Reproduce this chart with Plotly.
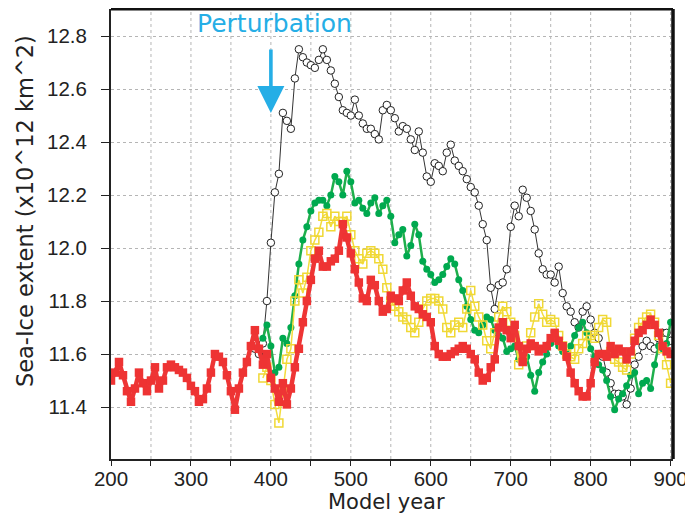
import plotly.graph_objects as go

# ---------------- data (5-year steps) ----------------
red_start = 200
red_vals = [11.50, 11.53, 11.57, 11.52, 11.46, 11.42, 11.47, 11.53, 11.49, 11.46,
            11.50, 11.55, 11.47, 11.50, 11.55, 11.56, 11.55, 11.54, 11.53, 11.51,
            11.48, 11.46, 11.42, 11.43, 11.47, 11.53, 11.60, 11.59, 11.57, 11.52,
            11.46, 11.39, 11.47, 11.53, 11.57, 11.63, 11.69, 11.62, 11.56, 11.60,
            11.51, 11.47, 11.42, 11.49, 11.41, 11.47, 11.55, 11.62, 11.72, 11.80,
            11.88, 11.96, 11.99, 11.93, 11.93, 11.95, 11.96, 11.99, 12.09, 12.04,
            11.98, 11.92, 11.87, 11.81, 11.80, 11.88, 11.86, 11.80, 11.76, 11.77,
            11.82, 11.81, 11.80, 11.84, 11.87, 11.82, 11.78, 11.77, 11.75, 11.74,
            11.72, 11.63, 11.60, 11.59, 11.59, 11.60, 11.61, 11.62, 11.63, 11.62,
            11.60, 11.58, 11.53, 11.50, 11.51, 11.55, 11.58, 11.70, 11.72, 11.69,
            11.66, 11.71, 11.63, 11.57, 11.62, 11.64, 11.63, 11.61, 11.62, 11.63,
            11.66, 11.68, 11.65, 11.63, 11.59, 11.53, 11.49, 11.46, 11.44, 11.44,
            11.49, 11.57, 11.60, 11.60, 11.59, 11.63, 11.60, 11.62, 11.61, 11.58,
            11.61, 11.65, 11.68, 11.69, 11.71, 11.73, 11.71, 11.68, 11.63, 11.61,
            11.60]

black_start = 380
black_vals = [11.62, 11.60, 11.64, 11.80, 12.02, 12.21, 12.28, 12.51, 12.48, 12.45,
              12.64, 12.75, 12.72, 12.70, 12.69, 12.68, 12.71, 12.75, 12.71, 12.67,
              12.62, 12.57, 12.52, 12.51, 12.50, 12.56, 12.50, 12.47, 12.45, 12.45,
              12.43, 12.41, 12.52, 12.54, 12.52, 12.49, 12.44, 12.46, 12.45, 12.41,
              12.37, 12.44, 12.36, 12.27, 12.25, 12.32, 12.31, 12.29, 12.36, 12.39,
              12.33, 12.31, 12.29, 12.26, 12.23, 12.21, 12.16, 12.09, 12.03, 11.85,
              11.77, 11.86, 11.87, 11.92, 12.08, 12.16, 12.12, 12.22, 12.19, 12.14,
              12.07, 11.98, 11.92, 11.90, 11.90, 11.87, 11.93, 11.83, 11.78, 11.76,
              11.72, 11.70, 11.76, 11.78, 11.73, 11.68, 11.66, 11.59, 11.53, 11.49,
              11.45, 11.45, 11.44, 11.41, 11.47, 11.56, 11.59, 11.63, 11.65, 11.63,
              11.62, 11.66, 11.68, 11.68, 11.65]

green_start = 390
green_vals = [11.66, 11.71, 11.63, 11.53, 11.55, 11.66, 11.64, 11.70, 11.82, 11.94,
              12.03, 12.08, 12.14, 12.17, 12.18, 12.18, 12.16, 12.20, 12.27, 12.25,
              12.20, 12.29, 12.25, 12.17, 12.18, 12.15, 12.13, 12.17, 12.19, 12.13,
              12.16, 12.18, 12.12, 12.02, 12.05, 12.07, 11.97, 12.01, 12.09, 12.05,
              11.95, 11.92, 11.90, 11.87, 11.88, 11.90, 11.93, 11.96, 11.94, 11.88,
              11.84, 11.78, 11.73, 11.69, 11.68, 11.71, 11.74, 11.73, 11.69, 11.67,
              11.66, 11.61, 11.62, 11.63, 11.58, 11.58, 11.59, 11.52, 11.46, 11.53,
              11.57, 11.60, 11.64, 11.67, 11.63, 11.61, 11.60, 11.63, 11.67, 11.70,
              11.72, 11.68, 11.62, 11.59, 11.56, 11.54, 11.50, 11.44, 11.39, 11.43,
              11.45, 11.48, 11.52, 11.53, 11.45, 11.49, 11.50, 11.47, 11.56, 11.63,
              11.62, 11.64, 11.72]

yellow_start = 390
yellow_vals = [11.51, 11.55, 11.50, 11.41, 11.34, 11.46, 11.58, 11.62, 11.80, 11.88,
               11.83, 11.89, 11.99, 12.03, 12.06, 12.12, 12.13, 12.08, 12.12, 12.10,
               12.10, 12.12, 12.05, 11.99, 11.96, 11.94, 11.98, 11.99, 11.98, 11.96,
               11.92, 11.85, 11.80, 11.78, 11.76, 11.74, 11.73, 11.70, 11.68, 11.72,
               11.77, 11.80, 11.81, 11.81, 11.80, 11.77, 11.70, 11.68, 11.71, 11.72,
               11.70, 11.77, 11.84, 11.78, 11.74, 11.71, 11.65, 11.62, 11.68, 11.74,
               11.78, 11.76, 11.72, 11.67, 11.56, 11.59, 11.63, 11.68, 11.74, 11.79,
               11.75, 11.72, 11.73, 11.72, 11.67, 11.63, 11.60, 11.59, 11.58, 11.62,
               11.64, 11.67, 11.67, 11.66, 11.70, 11.73, 11.72, 11.61, 11.58, 11.57,
               11.55, 11.54, 11.60, 11.66, 11.70, 11.72, 11.74, 11.75, 11.72, 11.67,
               11.62, 11.56, 11.49]

STEP = 5
x_ticks = [200, 300, 400, 500, 600, 700, 800, 900]
y_ticks = [11.4, 11.6, 11.8, 12.0, 12.2, 12.4, 12.6, 12.8]
y_tick_text = ["11.4", "11.6", "11.8", "12.0", "12.2", "12.4", "12.6", "12.8"]


def years(start, vals):
    return [start + STEP * i for i in range(len(vals))]


TICKFONT = "Liberation Sans, Arial, sans-serif"
TITLEFONT = "DejaVu Sans, Verdana, sans-serif"
CYAN = "#25AEE6"
INK = "#222222"

fig = go.Figure()

fig.add_trace(go.Scatter(
    x=years(black_start, black_vals), y=black_vals, mode="lines+markers",
    line=dict(color="#333333", width=1),
    marker=dict(symbol="circle", size=7.5, color="white",
                line=dict(color="#222222", width=1)),
    showlegend=False))

fig.add_trace(go.Scatter(
    x=years(green_start, green_vals), y=green_vals, mode="lines+markers",
    line=dict(color="#1FAF4C", width=2.5),
    marker=dict(symbol="circle", size=7, color="#00A94F"),
    showlegend=False))

fig.add_trace(go.Scatter(
    x=years(yellow_start, yellow_vals), y=yellow_vals, mode="lines+markers",
    line=dict(color="#F3DC3C", width=1.5),
    marker=dict(symbol="square-open", size=8, color="#F0D835",
                line=dict(width=1.5)),
    showlegend=False))

fig.add_trace(go.Scatter(
    x=years(red_start, red_vals), y=red_vals, mode="lines+markers",
    line=dict(color="#EE3535", width=4.5),
    marker=dict(symbol="square", size=8.5, color="#EE3333"),
    showlegend=False))

# Perturbation arrow and label
fig.add_annotation(x=400, y=12.51, ax=400, ay=12.755, xref="x", yref="y",
                   axref="x", ayref="y", text="", showarrow=True,
                   arrowhead=2, arrowsize=1.5, arrowwidth=3.6, arrowcolor=CYAN)
fig.add_annotation(x=404, y=12.848, xref="x", yref="y", text="Perturbation",
                   showarrow=False, font=dict(family=TITLEFONT, size=25, color=CYAN),
                   yanchor="middle", xanchor="center")

# axis titles as annotations (positions as in the reference)
fig.add_annotation(x=-0.153, y=0.551, xref="paper", yref="paper",
                   text="Sea-Ice extent (x10^12 km^2)", textangle=-90,
                   showarrow=False, xanchor="center", yanchor="middle",
                   font=dict(family=TITLEFONT, size=22.5, color=INK))
fig.add_annotation(x=0.491, y=-0.095, xref="paper", yref="paper",
                   text="Model year", showarrow=False,
                   xanchor="center", yanchor="middle",
                   font=dict(family=TITLEFONT, size=21, color=INK))

# heavy top / right frame
fig.add_shape(type="line", xref="paper", yref="paper", x0=0, x1=1, y0=1, y1=1,
              line=dict(color="#111111", width=3))
fig.add_shape(type="line", xref="paper", yref="paper", x0=1, x1=1, y0=0, y1=1,
              line=dict(color="#111111", width=3.5))

# vertical dotted grid every 50 years
for gx in range(250, 901, 50):
    fig.add_shape(type="line", xref="x", yref="paper", x0=gx, x1=gx, y0=0, y1=1,
                  line=dict(color="#B5B5B5", width=1, dash="dot"), layer="below")

# page body has an 8px margin, so the figure is sized/offset accordingly
fig.update_layout(
    width=685, height=507,
    margin=dict(l=103, r=20, t=1, b=56),
    paper_bgcolor="white", plot_bgcolor="white",
    font=dict(family=TICKFONT, color=INK),
    xaxis=dict(range=[200, 903], tickvals=x_ticks, ticks="outside", ticklen=5,
               tickwidth=1, tickcolor=INK, ticklabelstandoff=-5,
               showline=True, linecolor=INK, linewidth=2,
               showgrid=False, zeroline=False,
               tickfont=dict(size=20.5, family=TICKFONT, color=INK),
               minor=dict(tickvals=list(range(250, 901, 100)), ticks="outside",
                          ticklen=5, tickcolor=INK, showgrid=False)),
    yaxis=dict(range=[11.204, 12.902], tickvals=y_ticks, ticktext=y_tick_text,
               ticks="outside", ticklen=8, tickwidth=1, tickcolor=INK,
               ticklabelstandoff=10,
               showline=True, linecolor=INK, linewidth=2,
               showgrid=True, gridcolor="#B5B5B5", griddash="dot", gridwidth=1,
               zeroline=False,
               tickfont=dict(size=20.5, family=TICKFONT, color=INK)),
)

fig.write_html("out.html")
